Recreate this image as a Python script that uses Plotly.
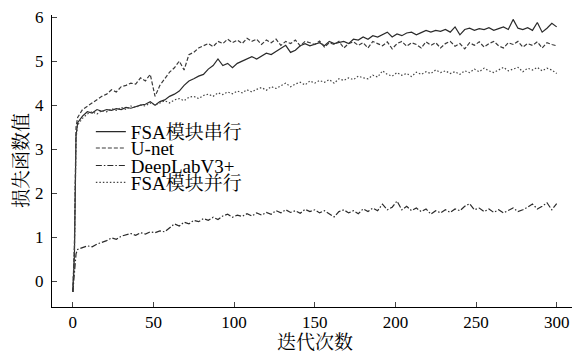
import plotly.graph_objects as go

# iteration index
iters = [0, 1, 2] + list(range(3, 301, 3))

names = ["FSA模块串行", "U-net", "DeepLabV3+", "FSA模块并行"]

fsa_serial_head = [-0.25, 0.6, 3.3]
fsa_serial = [3.6, 3.75, 3.85, 3.82, 3.9, 3.86, 3.9, 3.88, 3.92, 3.9,
              3.95, 3.93, 3.97, 4.0, 4.02, 4.08, 4.0, 4.08, 4.12, 4.2,
              4.25, 4.32, 4.45, 4.55, 4.6, 4.66, 4.7, 4.82, 4.9, 5.05,
              4.9, 4.95, 4.85, 4.95, 5.0, 5.05, 5.1, 5.05, 5.12, 5.18,
              5.15, 5.22, 5.3, 5.36, 5.2, 5.25, 5.35, 5.4, 5.35, 5.38,
              5.42, 5.35, 5.45, 5.4, 5.42, 5.45, 5.4, 5.5, 5.48, 5.55,
              5.5, 5.58, 5.55, 5.6, 5.66, 5.55, 5.62, 5.58, 5.64, 5.66,
              5.6, 5.65, 5.7, 5.66, 5.7, 5.68, 5.72, 5.66, 5.78, 5.6,
              5.72, 5.75, 5.7, 5.74, 5.72, 5.76, 5.7, 5.74, 5.78, 5.72,
              5.95, 5.75, 5.72, 5.76, 5.7, 5.88, 5.66, 5.75, 5.86, 5.78]

unet_head = [-0.25, 0.8, 3.5]
unet = [3.72, 3.9, 3.98, 4.05, 4.12, 4.2, 4.25, 4.35, 4.3, 4.42,
        4.45, 4.5, 4.48, 4.62, 4.55, 4.7, 4.2, 4.45, 4.6, 4.75,
        4.85, 5.0, 4.8, 5.15, 5.2, 5.3, 5.35, 5.4, 5.33, 5.45,
        5.4, 5.5, 5.42, 5.48, 5.4, 5.52, 5.45, 5.5, 5.38, 5.48,
        5.42, 5.5, 5.36, 5.45, 5.4, 5.48, 5.35, 5.45, 5.42, 5.38,
        5.46, 5.32, 5.42, 5.38, 5.45, 5.3, 5.4, 5.44, 5.36, 5.42,
        5.3, 5.45, 5.4, 5.35, 5.44, 5.28, 5.4, 5.45, 5.34, 5.42,
        5.38, 5.3, 5.44, 5.36, 5.42, 5.3, 5.4, 5.45, 5.34, 5.4,
        5.28, 5.42, 5.36, 5.44, 5.32, 5.4, 5.45, 5.35, 5.3, 5.42,
        5.38, 5.45, 5.32, 5.4, 5.36, 5.44, 5.3, 5.42, 5.38, 5.35]

deeplab_head = [-0.25, 0.3, 0.62]
deeplab = [0.72, 0.76, 0.8, 0.78, 0.84, 0.88, 0.92, 0.98, 0.95, 1.02,
           1.05, 1.08, 1.04, 1.1, 1.07, 1.12, 1.1, 1.14, 1.12, 1.2,
           1.3, 1.25, 1.34, 1.3, 1.38, 1.35, 1.42, 1.38, 1.45, 1.4,
           1.48, 1.52, 1.45, 1.5, 1.47, 1.53, 1.48, 1.55, 1.5, 1.56,
           1.52, 1.6, 1.55, 1.62, 1.56, 1.6, 1.54, 1.63, 1.58, 1.62,
           1.55, 1.6, 1.52, 1.46, 1.58, 1.62, 1.55, 1.6, 1.53, 1.64,
           1.58, 1.66, 1.6, 1.75, 1.62, 1.68, 1.82, 1.62, 1.7, 1.6,
           1.66, 1.58, 1.64, 1.52, 1.6, 1.55, 1.62, 1.56, 1.64, 1.6,
           1.7, 1.76, 1.62, 1.66, 1.58, 1.64, 1.56, 1.62, 1.55, 1.6,
           1.66, 1.58, 1.62, 1.68, 1.75, 1.64, 1.7, 1.78, 1.62, 1.76]

fsa_parallel_head = [-0.25, 0.7, 3.25]
fsa_parallel = [3.55, 3.7, 3.8, 3.85, 3.8, 3.88, 3.85, 3.92, 3.88, 3.95,
                3.9, 3.98, 3.95, 4.0, 3.98, 4.05, 4.0, 4.05, 4.1, 4.05,
                4.12, 4.15, 4.1, 4.18, 4.2, 4.15, 4.22, 4.25, 4.2, 4.28,
                4.24, 4.3, 4.26, 4.32, 4.28, 4.35, 4.3, 4.36, 4.4, 4.34,
                4.42, 4.38, 4.45, 4.5, 4.42, 4.48, 4.52, 4.46, 4.55, 4.5,
                4.56, 4.52, 4.58, 4.5, 4.6, 4.56, 4.62, 4.58, 4.66, 4.62,
                4.6, 4.68, 4.64, 4.78, 4.7, 4.66, 4.74, 4.68, 4.72, 4.65,
                4.75, 4.7, 4.76, 4.72, 4.8, 4.74, 4.78, 4.72, 4.76, 4.7,
                4.78, 4.74, 4.82, 4.76, 4.84, 4.78, 4.74, 4.8, 4.86, 4.78,
                4.82, 4.86, 4.76, 4.84, 4.8, 4.86, 4.78, 4.84, 4.8, 4.72]

x_ticks = [0, 50, 100, 150, 200, 250, 300]
y_ticks = [0, 1, 2, 3, 4, 5, 6]

series = [
    (names[0], fsa_serial_head + fsa_serial, "solid", "#2a2a2a", "legend"),
    (names[1], unet_head + unet, "4px,2px", "#3a3a3a", "legend2"),
    (names[2], deeplab_head + deeplab, "6px,2px,1.5px,2px", "#2a2a2a", "legend3"),
    (names[3], fsa_parallel_head + fsa_parallel, "1.5px,2px", "#444444", "legend4"),
]

fig = go.Figure()
for nm, ys, dash, col, lg in series:
    fig.add_trace(go.Scatter(x=iters, y=ys, mode="lines", name=nm, legend=lg,
                             line=dict(color=col, width=1.2, dash=dash)))

serif = "'Liberation Serif', 'Noto Serif CJK SC', 'Noto Sans CJK SC', serif"

leg_common = dict(x=0.074, xanchor="left", yanchor="middle",
                  bgcolor="rgba(0,0,0,0)", font=dict(family=serif, size=19),
                  itemwidth=30, borderwidth=0)
leg_rows = [0.600, 0.544, 0.484, 0.426]

# page body has an 8px margin, so the figure is sized/placed to compensate
fig.update_layout(
    width=572, height=346,
    margin=dict(l=44, r=3, t=7, b=47),
    plot_bgcolor="white", paper_bgcolor="white",
    font=dict(family=serif, size=17, color="black"),
    showlegend=True,
    legend=dict(y=leg_rows[0], **leg_common),
    legend2=dict(y=leg_rows[1], **leg_common),
    legend3=dict(y=leg_rows[2], **leg_common),
    legend4=dict(y=leg_rows[3], **leg_common),
    xaxis=dict(range=[-12.9, 312.6], tickvals=x_ticks, ticks="inside", ticklen=5,
               showline=True, linecolor="black", linewidth=1, showgrid=False,
               zeroline=False, automargin=False, tickfont=dict(size=17)),
    yaxis=dict(range=[-0.59, 6.05], tickvals=y_ticks, ticks="inside", ticklen=5,
               showline=True, linecolor="black", linewidth=1, showgrid=False,
               zeroline=False, automargin=False, tickfont=dict(size=17),
               ticklabelstandoff=4),
    annotations=[
        dict(text="迭代次数", xref="paper", yref="paper", x=0.5, y=0,
             yshift=-35, xanchor="center", yanchor="middle", showarrow=False,
             font=dict(size=19)),
        dict(text="损失函数值", xref="paper", yref="paper", x=0, y=0.5,
             xshift=-31, xanchor="center", yanchor="middle", showarrow=False,
             textangle=-90, font=dict(size=19)),
    ],
)

fig.write_html("out.html")
